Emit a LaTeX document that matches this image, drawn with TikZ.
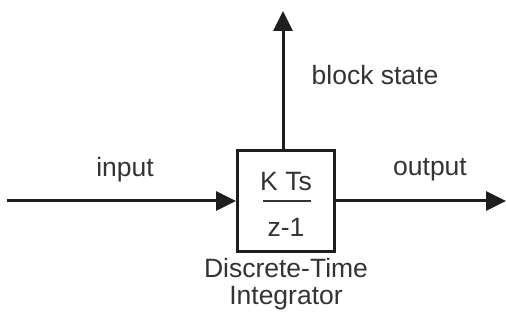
\documentclass[tikz,border=0pt]{standalone}
\usepackage{fontspec}
\setmainfont{Liberation Sans}
\usetikzlibrary{arrows.meta}
\definecolor{ink}{HTML}{1E1E1E}
\definecolor{txt}{HTML}{333333}
\begin{document}
\begin{tikzpicture}[x=1pt,y=1pt,
  conn/.style={draw=ink,line width=3pt,-{Triangle[length=20pt,width=19pt]}},
  lbl/.style={text=txt,font=\fontsize{26.5}{29}\selectfont,inner sep=0pt},
  blk/.style={draw=ink,line width=3pt,fill=white,minimum width=97pt,minimum height=101pt,inner sep=0pt}]
\useasboundingbox (0,0) rectangle (506,323);
\node[blk] (box) at (286,122) {};
\coordinate (in) at (7,122);
\coordinate (out) at (506,122);
\coordinate (top) at (283,312);
\draw[conn] (in) -- (box.west);
\draw[conn] (box.east) -- (out);
\draw[conn] (box.north -| top) -- (top);
\node[lbl] (num) at (286,141) {K Ts};
\node[lbl] (den) at (286,96) {z-1};
\draw[draw=txt,line width=2.5pt] (263,122) -- (311,122);
\node[lbl] (input) at (125,153) {input};
\node[lbl] (output) at (430,153) {output};
\node[lbl] (state) at (375,248) {block state};
\node[lbl,align=center] (name) at (286,39) {Discrete-Time\\[-2pt]Integrator};
\end{tikzpicture}
\end{document}
